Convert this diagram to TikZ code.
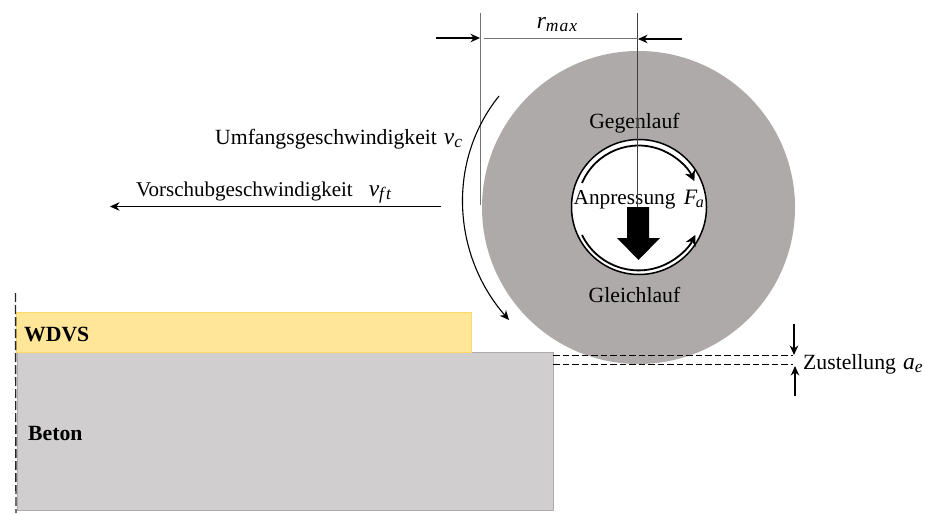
\documentclass[tikz,border=0pt]{standalone}
\usepackage{fontspec}
\setmainfont{Liberation Serif}
\usetikzlibrary{arrows.meta}
\newcommand{\mv}[2]{{\fontsize{23.5}{24}\selectfont\itshape #1}\raisebox{-3.5pt}{\fontsize{17.5}{18}\selectfont\itshape\addfontfeature{LetterSpace=6}#2}}
\newcommand{\mvsmall}[2]{{\fontsize{22}{24}\selectfont\itshape #1}\kern-1.5pt\raisebox{-3pt}{\fontsize{16}{18}\selectfont\itshape #2}}
\tikzset{
  lbl/.style={inner sep=0pt,font=\fontsize{21.7}{24}\selectfont,text=black},
  bolds/.style={inner sep=0pt,font=\fontsize{21.7}{24}\selectfont\bfseries,text=black},
  dim/.style={draw=black!55,line width=0.8pt},
  arr/.style={draw=black,line width=1.1pt,-{Stealth[length=9.5pt,width=8.5pt]}},
  hubarr/.style={draw=black,line width=1.8pt,-{Stealth[length=10.5pt,width=11pt]}},
  dashline/.style={draw=black,line width=1.5pt,dash pattern=on 6.5pt off 3pt},
}
\begin{document}
\begin{tikzpicture}[x=1pt,y=-1pt]
\useasboundingbox (0,0) rectangle (925,514);
\fill[white] (0,0) rectangle (925,514);
% materials
\node[line width=1pt,minimum width=536pt,minimum height=158pt,inner sep=0pt,anchor=north west,fill={rgb,255:red,208;green,206;blue,206},draw={rgb,255:red,175;green,171;blue,171}] (beton) at (17,352) {};
\node[line width=1pt,minimum width=455pt,minimum height=40pt,inner sep=0pt,anchor=north west,fill={rgb,255:red,255;green,230;blue,153},draw={rgb,255:red,255;green,217;blue,102}] (wdvs) at (16,312) {};
\node[circle,fill={rgb,255:red,174;green,170;blue,170},minimum size=313pt,inner sep=0pt] (disc) at (638.5,207.5) {};
\node[circle,draw=black,line width=1.5pt,fill=white,minimum size=135pt,inner sep=0pt] (hub) at (639,207) {};
% rotation arrows in the hub
\coordinate (ta) at (582,183);
\coordinate (ba) at (582,235);
\draw[hubarr] (ta) arc[start angle=-157,end angle=-25,radius=61.5];
\draw[hubarr] (ba) arc[start angle=154,end angle=26,radius=63];
% labels
\node[lbl,anchor=base west] (anp) at (573.5,204) {{\fontsize{21.3}{24}\selectfont Anpressung}\hspace{8.5pt}\mvsmall{F}{a}};
\node[lbl] (geg) at (634.5,123.5) {Gegenlauf};
\node[lbl] (gle) at (634.5,294.5) {Gleichlauf};
\node[lbl,anchor=base west] (umf) at (215,144) {Umfangsgeschwindigkeit\hspace{7pt}\mv{v}{c}};
\node[lbl,anchor=base west] (vor) at (136,196) {{\fontsize{21}{24}\selectfont Vorschubgeschwindigkeit}\hspace{16pt}\mv{v}{f\hspace{2pt}t}};
\node[lbl,anchor=base west] (zus) at (803,369) {Zustellung\hspace{7pt}\mv{a}{e}};
\node[lbl,anchor=base] (rm) at (557,28) {\mv{r}{max}};
\node[bolds,anchor=west] (wl) at (24,334.5) {WDVS};
\node[bolds,anchor=west] (bl) at (28,433.5) {Beton};
% block arrow
\fill[black] (627,207) -- (649,207) -- (649,238) -- (660,238) -- (638.5,260) -- (617,238) -- (627,238) -- cycle;
% dimension lines
\coordinate (la) at (480.5,13); \coordinate (lb) at (480.5,205);
\coordinate (ra) at (637.5,13); \coordinate (rb) at (637.5,207);
\draw[dim] (la) -- (lb);
\draw[draw=black!75,line width=0.8pt] (ra) -- (rb);
\coordinate (ha) at (484,38.5); \coordinate (hb) at (637.5,38.5);
\draw[dim] (ha) -- (hb);
\coordinate (a1) at (436,38); \coordinate (a1e) at (480,38);
\coordinate (a2) at (682,39); \coordinate (a2e) at (638,39);
\draw[arr] (a1) -- (a1e);
\draw[arr] (a2) -- (a2e);
% feed and peripheral speed
\coordinate (f1) at (441,206.5); \coordinate (f2) at (110,206.5);
\draw[arr] (f1) -- (f2);
\coordinate (v1) at (499,96); \coordinate (v2) at (509,320);
\draw[arr] (v1) .. controls (446,162) and (453,256) .. (v2);
% infeed
\coordinate (d1a) at (553,355.5); \coordinate (d1b) at (793,355.5);
\coordinate (d2a) at (553,364.5); \coordinate (d2b) at (793,364.5);
\draw[dashline] (d1a) -- (d1b);
\draw[dashline] (d2a) -- (d2b);
\coordinate (z1) at (794,324); \coordinate (z1e) at (794,355);
\coordinate (z2) at (795,396); \coordinate (z2e) at (795,366);
\draw[arr] (z1) -- (z1e);
\draw[arr] (z2) -- (z2e);
% axis
\coordinate (s1) at (15.5,293); \coordinate (s2) at (16,513);
\draw[draw=black!85,line width=1.4pt,dash pattern=on 9pt off 3pt] (s1) -- (s2);
\end{tikzpicture}
\end{document}
